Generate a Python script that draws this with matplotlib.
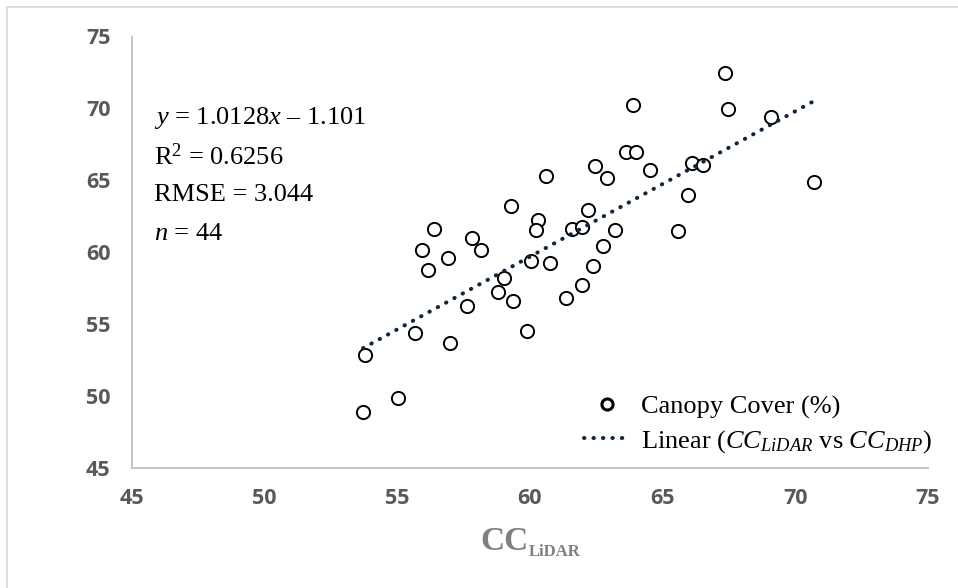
import numpy as np
import matplotlib.pyplot as plt
from matplotlib.patches import Rectangle

# ------------------ DATOS ------------------
cc_lidar = [67.36, 63.89, 67.48, 69.09, 63.63, 64.00, 62.44, 64.53, 60.60, 62.90,
            66.12, 66.53, 70.72, 65.96, 59.29, 62.18, 60.30, 60.25, 61.61, 61.95,
            63.22, 65.59, 56.39, 57.81, 55.93, 58.16, 56.92, 62.76, 60.04, 60.76,
            62.39, 56.16, 59.03, 58.80, 61.95, 59.38, 61.36, 57.63, 55.67, 59.88,
            56.99, 53.81, 55.03, 53.72]
cc_dhp = [72.47, 70.20, 69.94, 69.39, 66.99, 66.94, 66.00, 65.69, 65.32, 65.16,
          66.21, 66.08, 64.85, 63.99, 63.18, 62.92, 62.22, 61.54, 61.62, 61.77,
          61.54, 61.46, 61.59, 60.96, 60.16, 60.16, 59.58, 60.44, 59.37, 59.24,
          59.06, 58.75, 58.22, 57.23, 57.68, 56.61, 56.79, 56.27, 54.34, 54.52,
          53.69, 52.80, 49.85, 48.86]
pendiente = 1.0128
intercepto = -1.101
ticks = [45, 50, 55, 60, 65, 70, 75]
textos = [r"$y$ = 1.0128$x$ – 1.101", r"R$^{2}$ = 0.6256", "RMSE = 3.044", r"$n$ = 44"]
# -------------------------------------------

W, H = 958, 588
plt.rcParams["mathtext.fontset"] = "custom"
plt.rcParams["mathtext.rm"] = "Liberation Serif"
plt.rcParams["mathtext.it"] = "Liberation Serif:italic"
plt.rcParams["mathtext.bf"] = "Liberation Serif:bold"

fig = plt.figure(figsize=(W / 100, H / 100), dpi=100)
ax = fig.add_axes([131.5 / W, 1 - 467.5 / H, (928 - 131.5) / W, (467.5 - 36.5) / H])

x = np.array(cc_lidar)
y = np.array(cc_dhp)
ax.plot(x, y, "o", ls="none", ms=9.5, mew=1.4, mfc="white", mec="black",
        label="Canopy Cover (%)", zorder=3)

# linea de tendencia con la ecuacion mostrada
xl = np.array([x.min(), x.max()])
ax.plot(xl, pendiente * xl + intercepto, color="#0F243E", lw=2.9,
        ls=(0, (0.1, 2.25)), dash_capstyle="round", zorder=4,
        label=r"Linear ($CC_{LiDAR}$ vs $CC_{DHP}$)")

ax.set_xlim(45, 75)
ax.set_ylim(45, 75)
ax.set_xticks(ticks)
ax.set_yticks(ticks)
for s in ["top", "right"]:
    ax.spines[s].set_visible(False)
for s in ["left", "bottom"]:
    ax.spines[s].set_color("#C0C0C0")
    ax.spines[s].set_linewidth(1.3)
ax.tick_params(length=0, pad=15, labelcolor="#595959")
for lab in ax.get_xticklabels() + ax.get_yticklabels():
    lab.set_fontfamily("Open Sans")
    lab.set_fontweight("bold")
    lab.set_fontsize(15.5)

# etiqueta del eje x: CC con subindice pequeño
ax.set_xlabel("CC", fontsize=24, color="#7F7F7F", labelpad=12,
              family="Liberation Serif", fontweight="bold")
ax.xaxis.label.set_position((0.468, 0))
ax.annotate("LiDAR", xy=(1, 0.04), xycoords=ax.xaxis.label, xytext=(0, 0),
            textcoords="offset points", fontsize=12, color="#7F7F7F",
            family="Liberation Serif", fontweight="bold", va="baseline", ha="left")

for i, t in enumerate(textos):
    fig.text(154 / W, 1 - (118 + 38.5 * i) / H, t, fontsize=19,
             family="Liberation Serif", va="center", ha="left")

leg = ax.legend(loc="upper left", bbox_to_anchor=(584 / W, 1 - 395 / H),
                bbox_transform=fig.transFigure, frameon=False, borderpad=0,
                borderaxespad=0, handlelength=1.75, handletextpad=0.4,
                labelspacing=0.35, numpoints=1,
                prop={"family": "Liberation Serif", "size": 19})
leg.legend_handles[0].set_markersize(8)
leg.legend_handles[0].set_markeredgewidth(2.2)

# borde del area del grafico (recortado a la derecha y abajo)
fig.patches.append(Rectangle((7 / W, -0.1), 1.2, 1 - 7 / H + 0.1,
                             transform=fig.transFigure, fill=False,
                             ec="#D9D9D9", lw=1.3))

fig.savefig("out.png", dpi=100)
